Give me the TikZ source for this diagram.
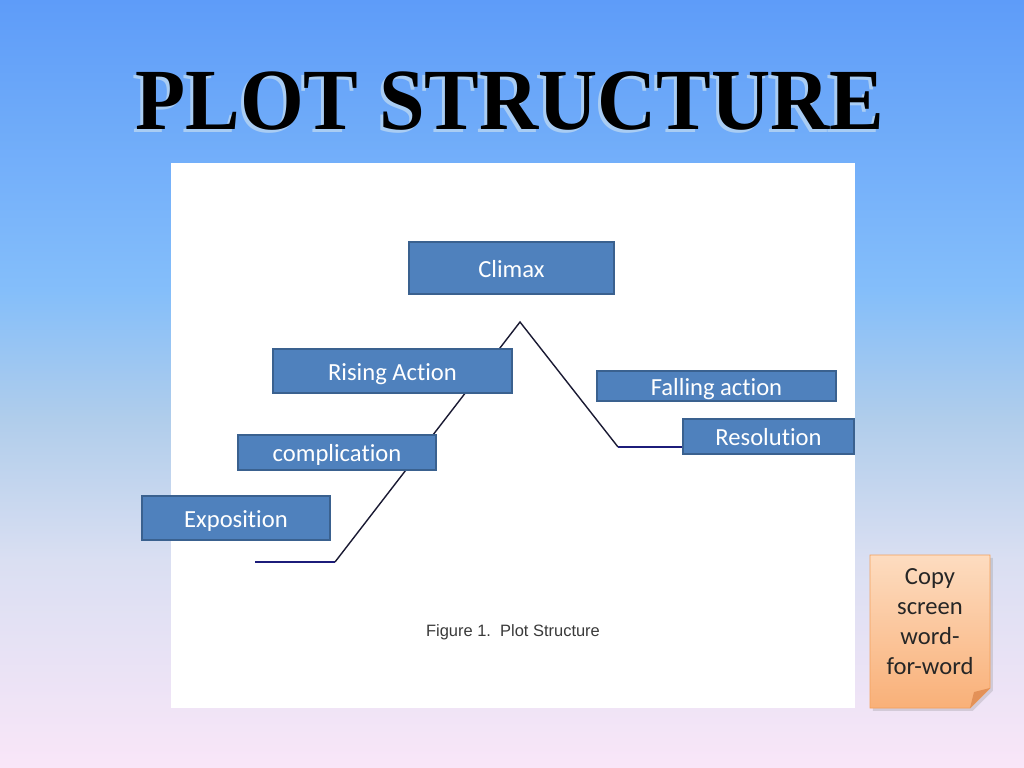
\documentclass[tikz,border=0pt]{standalone}
\usepackage{fontspec}
\usepackage{xcolor}
\usepackage{tikz}
\usetikzlibrary{calc,shadows}
\newfontfamily\boxfont[Ligatures={NoCommon}]{Carlito}
\newfontfamily\capfont{Liberation Sans}
\newfontfamily\titlefont{Liberation Serif}
\definecolor{sky}{HTML}{5E9CF9}
\definecolor{haze}{HTML}{84BEFA}
\definecolor{mist}{HTML}{B0CDEB}
\definecolor{lilac}{HTML}{DADFF2}
\definecolor{blush}{HTML}{F9E6F8}
\definecolor{stagefill}{HTML}{4F81BD}
\definecolor{stageline}{HTML}{3A618F}
\definecolor{plotblue}{HTML}{1C1C7A}
\definecolor{plotdark}{HTML}{1A1A33}
\definecolor{titleshade}{HTML}{A9CDF4}
\definecolor{notetop}{HTML}{FDDCC0}
\definecolor{notebot}{HTML}{F9B078}
\definecolor{noteline}{HTML}{F4A05A}
\definecolor{notefold}{HTML}{E39158}
\definecolor{captext}{HTML}{3A3A3A}
\pgfdeclareverticalshading{slidesky}{100bp}{color(0bp)=(blush); color(25bp)=(blush);
  color(38.5bp)=(lilac); color(47.7bp)=(mist); color(56.1bp)=(haze);
  color(75bp)=(sky); color(100bp)=(sky)}
\tikzset{
  stage/.style   ={draw=stageline,line width=1pt,fill=stagefill,text=white,
                   inner sep=0pt,text height=12.8pt,text depth=0pt,
                   font=\boxfont\fontsize{17.5}{20}\selectfont},
  plotflat/.style={draw=plotblue,line width=1.1pt},
  plotslope/.style={draw=plotdark,line width=1pt},
  notepaper/.style={draw=noteline,line width=0.6pt,top color=notetop,bottom color=notebot,
                   drop shadow={opacity=0.25,shadow xshift=2pt,shadow yshift=-2pt}},
  notetext/.style={align=center,text=black!85,inner sep=0pt,
                   font=\boxfont\fontsize{17.5}{21.3}\selectfont},
  heading/.style ={anchor=base,inner sep=0pt,font=\titlefont\bfseries\fontsize{62}{62}\selectfont}
}

\begin{document}
\begin{tikzpicture}[x=0.025cm,y=-0.025cm]
  % slide background
  \path[shading=slidesky] (0,0) rectangle (1024,768);
  \useasboundingbox (0,0) rectangle (1024,768);
  % title
  \node[heading,text=titleshade] (titleshadow) at (507,133) {\scalebox{0.94}[1]{PLOT STRUCTURE}};
  \node[heading,text=black] (title) at (510,130) {\scalebox{0.94}[1]{PLOT STRUCTURE}};
  % figure panel
  \node[fill=white,minimum width=17.1cm,minimum height=13.625cm,inner sep=0pt] (panel) at (513,435.5) {};
  % plot line
  \coordinate (begin)  at (255,562);
  \coordinate (turn)   at (335,562);
  \coordinate (peak)   at (520,322);
  \coordinate (trough) at (618,447);
  \coordinate (finish) at (685,447);
  \draw[plotflat] (begin) -- (turn);
  \draw[plotslope] (turn) -- (peak) -- (trough);
  \draw[plotflat] (trough) -- (finish);
  % stage labels
  \node[stage,minimum width=5.125cm,minimum height=1.3cm] (climax) at (511.5,268) {Climax};
  \node[stage,minimum width=5.975cm,minimum height=1.1cm] (rising) at (392.5,371) {Rising Action};
  \node[stage,minimum width=5.975cm,minimum height=0.75cm] (falling) at (716.5,386) {Falling action};
  \node[stage,minimum width=4.275cm,minimum height=0.875cm] (resolution) at (768.5,436.5) {Resolution};
  \node[stage,minimum width=4.95cm,minimum height=0.875cm] (complication) at (337,452.5) {complication};
  \node[stage,minimum width=4.7cm,minimum height=1.1cm] (exposition) at (236,518) {Exposition};
  % caption
  \node[anchor=base,inner sep=0pt,text=captext,font=\capfont\fontsize{11.7}{14}\selectfont]
    (caption) at (513,636) {Figure 1.\ \ Plot Structure};
  % sticky note
  \path[notepaper] (870,555) -- (990,555) -- (990,688) -- (970,708) -- (870,708) -- cycle;
  \fill[notefold] (990,688) -- (970,708) -- (974,692) -- cycle;
  \node[notetext] (note) at (930,622) {Copy\\screen\\word-\\for-word};
\end{tikzpicture}
\end{document}
